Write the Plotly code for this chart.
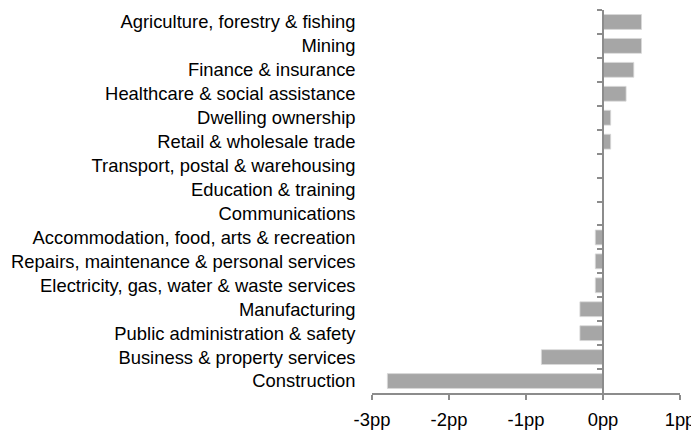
import plotly.graph_objects as go

categories = [
    "Agriculture, forestry & fishing",
    "Mining",
    "Finance & insurance",
    "Healthcare & social assistance",
    "Dwelling ownership",
    "Retail & wholesale trade",
    "Transport, postal & warehousing",
    "Education & training",
    "Communications",
    "Accommodation, food, arts & recreation",
    "Repairs, maintenance & personal services",
    "Electricity, gas, water & waste services",
    "Manufacturing",
    "Public administration & safety",
    "Business & property services",
    "Construction",
]
values = [0.5, 0.5, 0.4, 0.3, 0.1, 0.1, 0.0, 0.0, 0.0, -0.1, -0.1, -0.1, -0.3, -0.3, -0.8, -2.8]
x_ticks = [-3, -2, -1, 0, 1]
x_tick_labels = ["-3pp", "-2pp", "-1pp", "0pp", "1pp"]

fig = go.Figure(go.Bar(
    y=categories, x=values, orientation="h",
    marker=dict(color="#A6A6A6", line=dict(color="#D9D9D9", width=0.8)),
))

axis_gray = "#8C8C8C"
# page body has an 8px default margin, so the figure is sized to fit the 699x432 window
fig.update_layout(
    width=691, height=424,
    margin=dict(l=364, r=19, t=2, b=39),
    paper_bgcolor="white", plot_bgcolor="white",
    font=dict(family="Liberation Sans, Arial, sans-serif", size=18.4, color="black"),
    bargap=0.38,
    showlegend=False,
    xaxis=dict(
        range=[-3, 1], tickvals=x_ticks, ticktext=x_tick_labels,
        showgrid=False, zeroline=False, automargin=False,
        showline=True, linecolor=axis_gray, linewidth=1.5,
        ticks="outside", ticklen=5, tickcolor=axis_gray, tickwidth=1.5,
        ticklabelstandoff=4,
        tickfont=dict(size=18.4, color="black"),
    ),
    yaxis=dict(
        autorange="reversed",
        anchor="free", position=0.75, automargin=False,
        showgrid=False, zeroline=False,
        showline=True, linecolor=axis_gray, linewidth=1.5,
        ticks="outside", ticklen=5, tickcolor=axis_gray, tickwidth=1.5,
        tickson="boundaries",
        ticklabelstandoff=243,
        tickfont=dict(size=18.4, color="black"),
    ),
)

fig.write_html("out.html")
